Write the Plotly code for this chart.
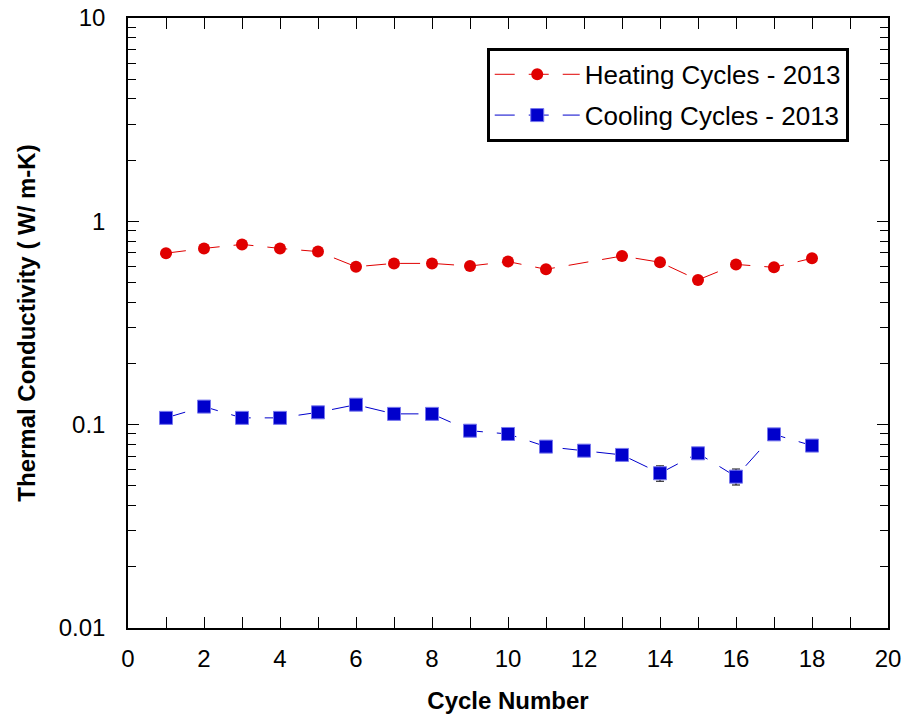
import plotly.graph_objects as go

# Thermal conductivity measured over successive thermal cycles
heat_cycle = [1, 2, 3, 4, 5, 6, 7, 8, 9, 10, 11, 13, 14, 15, 16, 17, 18]
heat_k = [0.697, 0.736, 0.770, 0.736, 0.710, 0.598, 0.621, 0.621, 0.603,
          0.634, 0.581, 0.675, 0.629, 0.515, 0.614, 0.594, 0.658]
heat_err = [0.012, 0.012, 0.012, 0.012, 0.012, 0.012, 0.012, 0.012, 0.012,
            0.012, 0.012, 0.012, 0.012, 0.012, 0.012, 0.012, 0.012]

cool_cycle = [1, 2, 3, 4, 5, 6, 7, 8, 9, 10, 11, 12, 13, 14, 15, 16, 17, 18]
cool_k = [0.108, 0.1227, 0.108, 0.108, 0.115, 0.1254, 0.113, 0.113, 0.0934,
          0.090, 0.078, 0.0745, 0.071, 0.0577, 0.0723, 0.0555, 0.0896, 0.0789]
cool_err = [0.003, 0.003, 0.003, 0.003, 0.003, 0.003, 0.003, 0.003, 0.003,
            0.003, 0.003, 0.003, 0.003, 0.005, 0.003, 0.005, 0.003, 0.003]

x_ticks = list(range(0, 21, 2))
y_ticks = [0.01, 0.1, 1, 10]
y_tick_text = ["0.01", "0.1", "1", "10"]
y_minor = [m * 10 ** e for e in (-2, -1, 0) for m in range(2, 10)]

RED = "#e00000"
BLUE = "#0000cc"
FONT = "Liberation Sans, Arial, Helvetica, sans-serif"

fig = go.Figure()
fig.add_trace(go.Scatter(
    x=heat_cycle, y=heat_k, name="Heating Cycles - 2013",
    mode="lines+markers", legendgroup="h",
    line=dict(color=RED, width=1, dash="20px,14px"),
    marker=dict(symbol="circle", size=12, color=RED, line=dict(color=RED, width=0)),
    error_y=dict(type="data", array=heat_err, color="black", thickness=1, width=3),
))
fig.add_trace(go.Scatter(
    x=cool_cycle, y=cool_k, name="Cooling Cycles - 2013",
    mode="lines+markers", legendgroup="c",
    line=dict(color=BLUE, width=1, dash="20px,14px"),
    marker=dict(symbol="square", size=13, color=BLUE,
                line=dict(color="#7777ee", width=1)),
    error_y=dict(type="data", array=cool_err, color="black", thickness=1, width=4),
))

fig.update_layout(
    width=910, height=715,
    margin=dict(l=128, r=22, t=18, b=87, autoexpand=False),
    paper_bgcolor="white", plot_bgcolor="white",
    font=dict(family=FONT, size=24, color="black"),
    showlegend=True,
    legend=dict(
        x=0.472, y=0.951, xanchor="left", yanchor="top",
        bordercolor="black", borderwidth=3, bgcolor="white",
        font=dict(size=26, family=FONT),
        tracegroupgap=4, traceorder="grouped",
        itemwidth=85,
    ),
)

fig.update_xaxes(
    range=[0, 20], tickvals=x_ticks, automargin=False,
    ticks="inside", ticklen=11, tickwidth=1, tickcolor="black",
    minor=dict(dtick=1, tick0=0, ticks="inside", ticklen=11, tickwidth=1, tickcolor="black"),
    showline=True, linecolor="black", linewidth=1.5, mirror="allticks",
    showgrid=False, zeroline=False,
    tickfont=dict(size=24), ticklabelstandoff=8,
    title=dict(text="<b>Cycle Number</b>", font=dict(size=24), standoff=22),
)
fig.update_yaxes(
    type="log", range=[-2, 1], automargin=False,
    tickvals=y_ticks, ticktext=y_tick_text,
    ticks="inside", ticklen=11, tickwidth=1, tickcolor="black",
    minor=dict(tickvals=y_minor, ticks="inside", ticklen=8, tickwidth=1, tickcolor="black"),
    showline=True, linecolor="black", linewidth=1.5, mirror="allticks",
    showgrid=False, zeroline=False,
    tickfont=dict(size=24), ticklabelstandoff=16,
    title=dict(text="<b>Thermal Conductivity ( W/ m-K)</b>", font=dict(size=24), standoff=16),
)

fig.write_html("out.html")
